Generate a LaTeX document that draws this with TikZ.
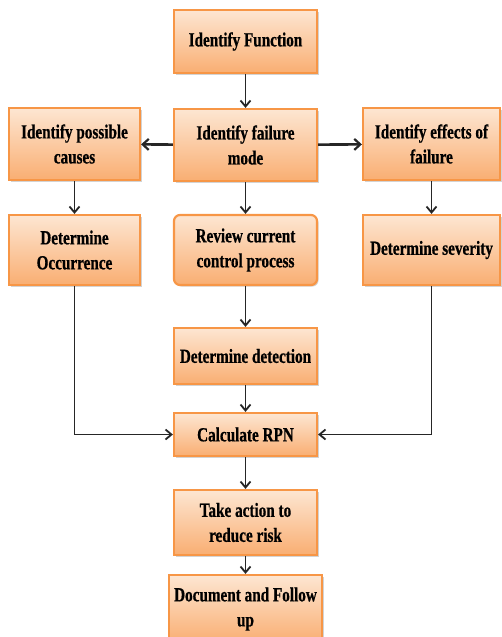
\documentclass[tikz,border=0pt]{standalone}
\usepackage{fontspec}
\setmainfont{Liberation Serif}[FakeStretch=0.76,FakeBold=0.6]
\usetikzlibrary{arrows.meta,shadows}
\definecolor{boxborder}{HTML}{F79646}
\definecolor{boxtop}{HTML}{FDE6D2}
\definecolor{boxbot}{HTML}{F9AE72}
\definecolor{linec}{HTML}{262626}
\begin{document}
\begin{tikzpicture}[x=1pt,y=-1pt,
  box/.style={draw=boxborder, line width=2.2pt, top color=boxtop, bottom color=boxbot,
    minimum width=#1, align=center, font=\fontsize{20}{25}\selectfont\bfseries,
    inner sep=2pt, drop shadow={shadow xshift=1.5pt, shadow yshift=-1.5pt, opacity=0.35}},
  arr/.style={draw=linec, line width=1.8pt, -{Straight Barb[length=6pt,width=10pt,line width=1.8pt]}},
  harr/.style={draw=linec, line width=2.6pt, -{Straight Barb[length=6pt,width=11pt,line width=2.2pt]}}]
\useasboundingbox (0,0) rectangle (502,637);
\node[box=143pt, minimum height=63pt] (f1) at (245.5,41.5) {Identify Function};
\node[box=143pt, minimum height=72pt] (f2) at (245.5,145) {Identify failure\\mode};
\node[box=131pt, minimum height=72pt] (c1) at (74.5,144) {Identify possible\\causes};
\node[box=137pt, minimum height=72pt] (e1) at (431.5,144) {Identify effects of\\failure};
\node[box=131pt, minimum height=70pt] (c2) at (74.5,250) {Determine\\Occurrence};
\node[box=143pt, minimum height=70pt, rounded corners=6pt] (r1) at (245.5,250) {Review current\\control process};
\node[box=137pt, minimum height=70pt] (e2) at (431.5,250) {Determine severity};
\node[box=143pt, minimum height=56pt] (d1) at (245.5,356) {Determine detection};
\node[box=143pt, minimum height=43pt] (rpn) at (245.5,434.5) {Calculate RPN};
\node[box=143pt, minimum height=65pt] (act) at (245.5,522.5) {Take action to\\reduce risk};
\node[box=153pt, minimum height=68pt] (doc) at (245.5,609) {Document and Follow\\up};
\draw[arr] (f1) -- (f2);
\draw[harr] (f2) -- (c1);
\draw[harr] (f2) -- (e1);
\draw[arr] (c1) -- (c2);
\draw[arr] (e1) -- (e2);
\draw[arr] (f2) -- (r1);
\draw[arr] (r1) -- (d1);
\draw[arr] (d1) -- (rpn);
\draw[arr] (c2.south) |- (rpn.west);
\draw[arr] (e2.south) |- (rpn.east);
\draw[arr] (rpn) -- (act);
\draw[arr] (act) -- (doc);
\end{tikzpicture}
\end{document}
